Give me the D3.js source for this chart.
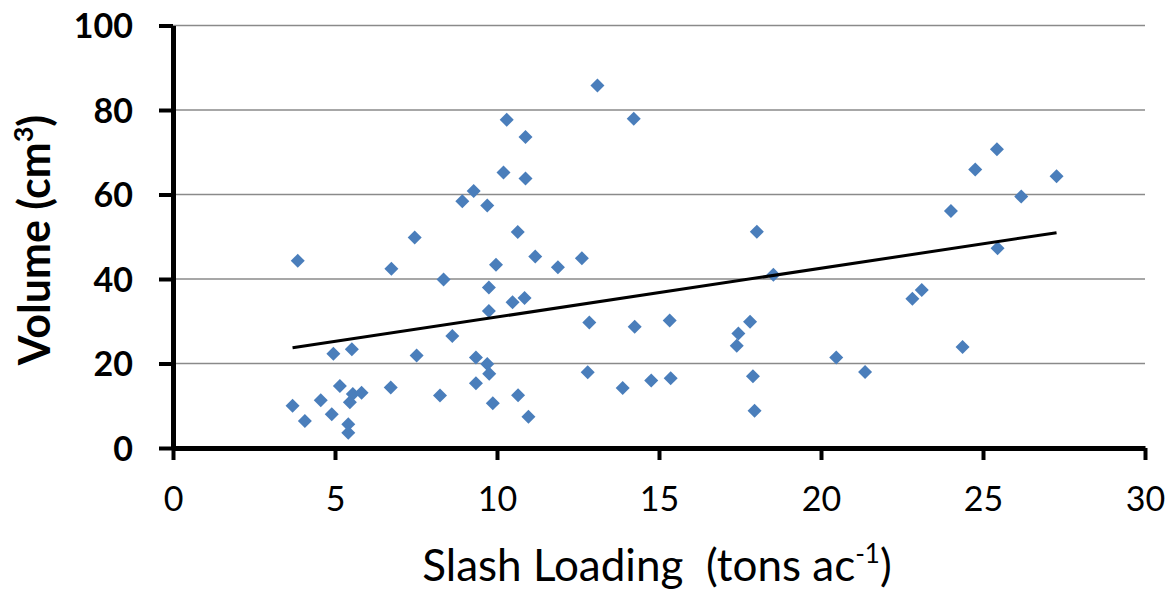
<!DOCTYPE html>
<html>
<head>
<meta charset="utf-8">
<script src="https://cdn.jsdelivr.net/npm/d3@7"></script>
<style>
  html, body { margin: 0; padding: 0; background: #fff; }
  svg { display: block; }
</style>
</head>
<body>
<svg id="chart" width="1165" height="594"></svg>
<script>
// ---- Data ----
const slashLoading = [3.85, 3.69, 4.07, 4.56, 4.90, 4.95, 5.15, 5.55, 5.82, 5.46, 5.41, 5.41, 5.52,
  6.72, 6.74, 7.46, 7.52, 8.24, 8.35, 8.62, 8.93, 9.28, 9.35, 9.35, 9.70, 9.70, 9.76, 9.75, 9.75,
  9.87, 9.97, 10.20, 10.30, 10.48, 10.64, 10.65, 10.85, 10.88, 10.88, 10.97, 11.18, 11.88, 12.62,
  12.80, 12.85, 13.10, 13.88, 14.22, 14.25, 14.76, 15.33, 15.36, 17.45, 17.81, 17.40, 17.90, 17.95,
  18.02, 18.53, 20.47, 21.36, 22.82, 23.11, 24.01, 24.37, 24.76, 25.43, 25.45, 26.18, 27.27];
const volume = [44.3, 10.0, 6.4, 11.3, 8.0, 22.3, 14.7, 12.8, 13.1, 10.8, 5.6, 3.6, 23.4,
  14.3, 42.4, 49.8, 21.9, 12.4, 39.9, 26.5, 58.4, 60.8, 21.4, 15.3, 57.4, 19.9, 17.6, 38.0, 32.4,
  10.6, 43.4, 65.2, 77.7, 34.5, 51.1, 12.5, 35.5, 73.6, 63.8, 7.4, 45.3, 42.8, 44.9,
  17.9, 29.7, 85.8, 14.2, 77.9, 28.7, 16.0, 30.2, 16.5, 27.1, 29.9, 24.2, 17.0, 8.8,
  51.2, 41.0, 21.4, 18.0, 35.3, 37.4, 56.1, 23.9, 65.9, 70.7, 47.3, 59.5, 64.3];
const trendSlope = 1.155;
const trendIntercept = 19.45;
const xTicks = [0, 5, 10, 15, 20, 25, 30];
const yTicks = [0, 20, 40, 60, 80, 100];
const xTitle = "Slash Loading  (tons ac";
const yTitle = "Volume (cm";

// ---- Layout ----
const svg = d3.select("#chart");
const mLeft = 173, mRight = 1145, mTop = 25.5, mBottom = 448;

const x = d3.scaleLinear().domain([0, 30]).range([mLeft, mRight]);
const y = d3.scaleLinear().domain([0, 100]).range([mBottom, mTop]);

// Gridlines
svg.append("g")
  .selectAll("line")
  .data(yTicks.filter(d => d > 0))
  .join("line")
  .attr("x1", mLeft).attr("x2", mRight)
  .attr("y1", d => y(d)).attr("y2", d => y(d))
  .attr("stroke", "#8a8a8a")
  .attr("stroke-width", 1.6);

// Axes
const xAxis = d3.axisBottom(x).tickValues(xTicks).tickSizeInner(12).tickSizeOuter(0).tickPadding(27);
const yAxis = d3.axisLeft(y).tickValues(yTicks).tickSizeInner(14).tickSizeOuter(0).tickPadding(26);

const gx = svg.append("g").attr("transform", `translate(0,${mBottom})`).call(xAxis);
const gy = svg.append("g").attr("transform", `translate(${mLeft},0)`).call(yAxis);

[gx, gy].forEach(g => {
  g.select(".domain").attr("stroke", "#000").attr("stroke-width", 5);
  g.selectAll(".tick line").attr("stroke", "#000").attr("stroke-width", 4);
  g.selectAll(".tick text")
    .attr("fill", "#000")
    .style("font-family", "Lato, 'Open Sans', sans-serif")
    .style("font-size", "34px");
});
gy.selectAll(".tick text").style("font-weight", "700").attr("dy", "0.36em");
gx.selectAll(".tick text").style("font-weight", "400");

// Points (diamonds)
const diamond = d3.symbol().type(d3.symbolDiamond2).size(125);
svg.append("g")
  .selectAll("path")
  .data(slashLoading.map((d, i) => [d, volume[i]]))
  .join("path")
  .attr("d", diamond)
  .attr("transform", d => `translate(${x(d[0])},${y(d[1])})`)
  .attr("fill", "#4a7ebb");

// Trend line
const xMin = d3.min(slashLoading), xMax = d3.max(slashLoading);
svg.append("line")
  .attr("x1", x(xMin)).attr("y1", y(trendSlope * xMin + trendIntercept))
  .attr("x2", x(xMax)).attr("y2", y(trendSlope * xMax + trendIntercept))
  .attr("stroke", "#000")
  .attr("stroke-width", 3);

// Axis titles
const xt = svg.append("text")
  .attr("x", 657).attr("y", 581)
  .attr("text-anchor", "middle")
  .style("white-space", "pre")
  .style("font-family", "Lato, 'Open Sans', sans-serif")
  .style("font-size", "44px")
  .style("font-weight", "400")
  .attr("fill", "#000");
xt.append("tspan").text(xTitle);
xt.append("tspan").attr("dy", -18).style("font-size", "26px").text("-1");
xt.append("tspan").attr("dy", 18).text(")");

const yt = svg.append("text")
  .attr("transform", "translate(50,240) rotate(-90)")
  .attr("text-anchor", "middle")
  .style("font-family", "Lato, 'Open Sans', sans-serif")
  .style("font-size", "43px")
  .style("font-weight", "700")
  .attr("fill", "#000");
yt.append("tspan").text(yTitle);
yt.append("tspan").attr("dy", -17).style("font-size", "27px").text("3");
yt.append("tspan").attr("dy", 17).text(")");
</script>
</body>
</html>
